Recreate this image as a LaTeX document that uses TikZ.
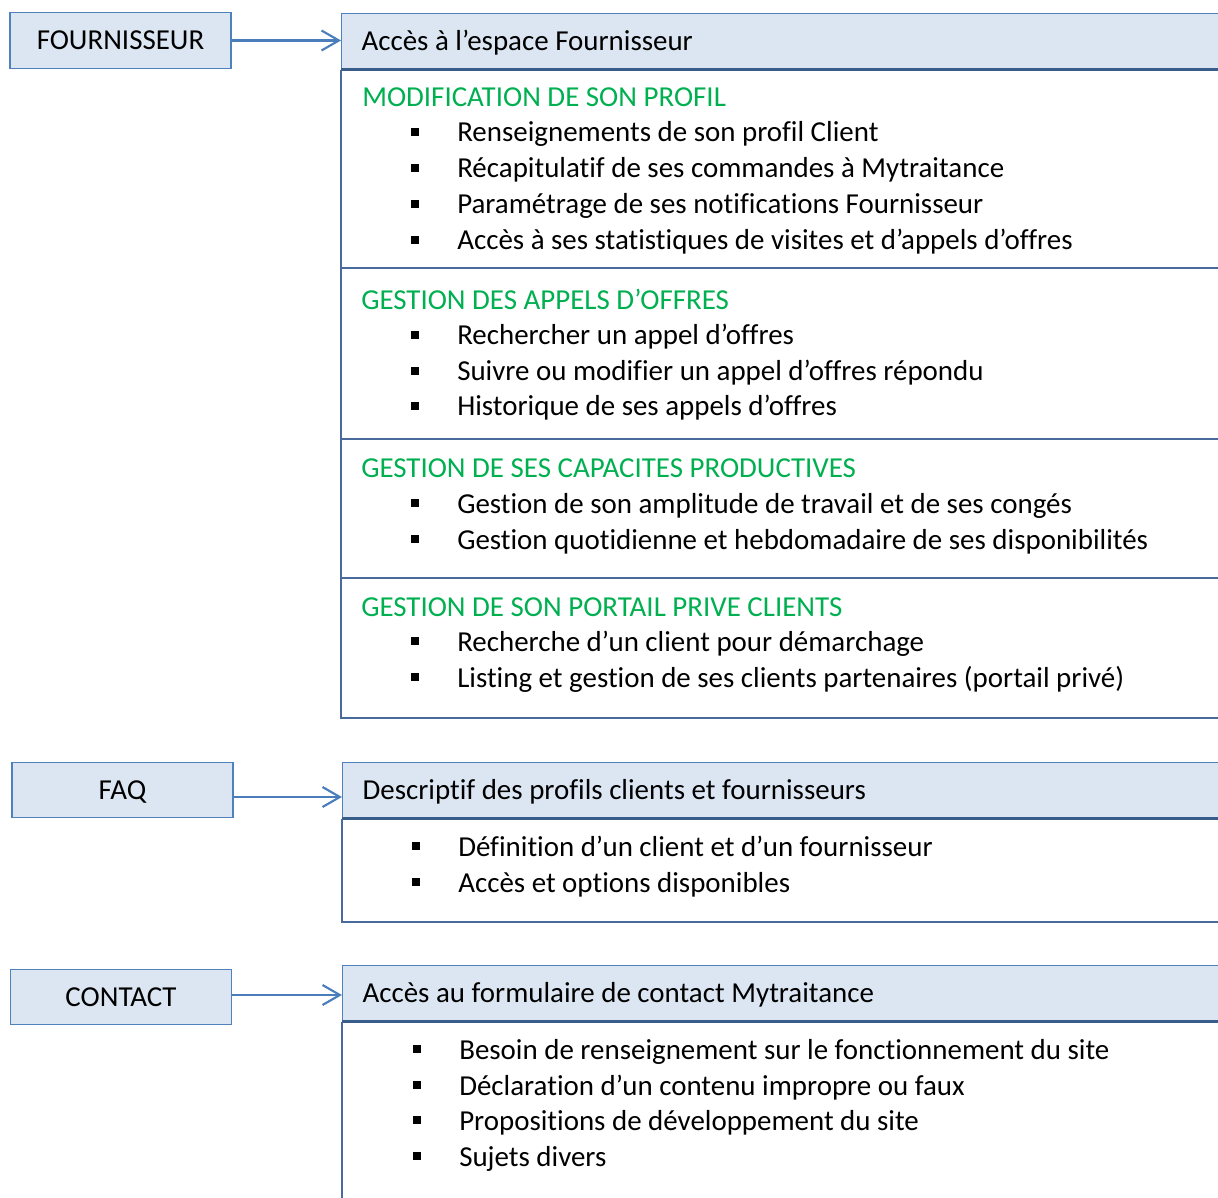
\documentclass[tikz,border=0pt]{standalone}
\usepackage{fontspec}
\setmainfont{Carlito}[Ligatures={NoCommon}]
\usetikzlibrary{arrows.meta}
\definecolor{fond}{HTML}{DCE6F2}
\definecolor{bordure}{HTML}{4F81BD}
\definecolor{bordfonce}{HTML}{385D8A}
\definecolor{cadre}{HTML}{4A6A9E}
\definecolor{vert}{HTML}{00B050}
\definecolor{fleche}{HTML}{4A7EBB}
\tikzset{
	boite/.style={draw=bordure, fill=fond, line width=0.9pt, minimum width=165.75pt, minimum height=41.5pt, inner sep=0pt, text height=15.5pt, text depth=1.3pt},
	entete/.style={draw=bordure, fill=fond, line width=0.9pt, anchor=north west, minimum height=41.5pt, text width=640pt, inner xsep=15pt, inner ysep=0pt, align=flush left, text height=15.5pt, text depth=1.3pt},
	basentete/.style={draw=bordfonce, line width=2pt},
	trait/.style={draw=cadre, line width=0.9pt},
	titre/.style={anchor=base west, inner sep=0pt, text=vert},
	item/.style={anchor=base west, inner sep=0pt},
	puce/.style={fill=black, inner sep=0pt, minimum size=6.5pt},
	fl/.style={draw=fleche, line width=1.6pt, -{Straight Barb[length=13pt, width=15pt, line width=1.6pt]}}
}
\begin{document}
\begin{tikzpicture}[x=0.75pt, y=-0.75pt, font=\fontsize{21.7}{26}\selectfont]
	\useasboundingbox (0,0) rectangle (1218,1198);
	\clip (0,0) rectangle (1218,1198);
	%boites de gauche
	\node[boite] (fourn) at (120.5,40.5) {FOURNISSEUR};
	\node[boite] (faq) at (122.5,790) {FAQ};
	\node[boite] (contact) at (121,997) {CONTACT};
	%entetes
	\node[entete] (fournhead) at (341,13) {Accès à l’espace Fournisseur};
	\node[entete] (faqhead) at (342,762) {Descriptif des profils clients et fournisseurs};
	\node[entete] (contacthead) at (342,965) {Accès au formulaire de contact Mytraitance};
	\foreach \n in {fournhead,faqhead,contacthead}
	\draw[basentete] (\n.south west) -- (\n.south east);
	%cadres
	\draw[trait] (fournhead.south west) -- (341,718) -- (1240,718);
	\foreach \y in {268,439,578}
	\draw[trait] (341,\y) -- (1240,\y);
	\draw[trait] (faqhead.south west) -- (342,922) -- (1240,922);
	\draw[trait] (contacthead.south west) -- (342,1210);
	%fleches
	\draw[fl] (fourn.east) -- (fourn.east -| fournhead.west);
	\draw[fl] ([yshift=-5.25pt]faq.east) -- ([yshift=-5.25pt]faq.east -| faqhead.west);
	\draw[fl] ([yshift=1.5pt]contact.east) -- ([yshift=1.5pt]contact.east -| contacthead.west);
	%rubriques fournisseur
	\node[titre] (profil) at (362,107) {MODIFICATION DE SON PROFIL};
	\foreach \y/\texte [count=\i] in {
		142/Renseignements de son profil Client,
		178/Récapitulatif de ses commandes à Mytraitance,
		214/Paramétrage de ses notifications Fournisseur,
		250/Accès à ses statistiques de visites et d’appels d’offres
	}{
		\node[puce] (pprofil\i) at (415,\y-10) {};
		\node[item] (profil\i) at (457,\y) {\texte};
	}
	\node[titre] (appels) at (361,310) {GESTION DES APPELS D’OFFRES};
	\foreach \y/\texte [count=\i] in {
		345/Rechercher un appel d’offres,
		381/Suivre ou modifier un appel d’offres répondu,
		416/Historique de ses appels d’offres
	}{
		\node[puce] (pappels\i) at (415,\y-10) {};
		\node[item] (appels\i) at (457,\y) {\texte};
	}
	\node[titre] (capacites) at (361,477) {GESTION DE SES CAPACITES PRODUCTIVES};
	\foreach \y/\texte [count=\i] in {
		513/Gestion de son amplitude de travail et de ses congés,
		549/Gestion quotidienne et hebdomadaire de ses disponibilités
	}{
		\node[puce] (pcapacites\i) at (415,\y-10) {};
		\node[item] (capacites\i) at (457,\y) {\texte};
	}
	\node[titre] (portail) at (361,616) {GESTION DE SON PORTAIL PRIVE CLIENTS};
	\foreach \y/\texte [count=\i] in {
		651/Recherche d’un client pour démarchage,
		687/Listing et gestion de ses clients partenaires (portail privé)
	}{
		\node[puce] (pportail\i) at (415,\y-10) {};
		\node[item] (portail\i) at (457,\y) {\texte};
	}
	%faq
	\foreach \y/\texte [count=\i] in {
		856/Définition d’un client et d’un fournisseur,
		892/Accès et options disponibles
	}{
		\node[puce] (pfaq\i) at (416,\y-10) {};
		\node[item] (faq\i) at (458,\y) {\texte};
	}
	%contact
	\foreach \y/\texte [count=\i] in {
		1059/Besoin de renseignement sur le fonctionnement du site,
		1095/Déclaration d’un contenu impropre ou faux,
		1130/Propositions de développement du site,
		1166/Sujets divers
	}{
		\node[puce] (pcontact\i) at (417,\y-10) {};
		\node[item] (contact\i) at (459,\y) {\texte};
	}
\end{tikzpicture}
\end{document}
